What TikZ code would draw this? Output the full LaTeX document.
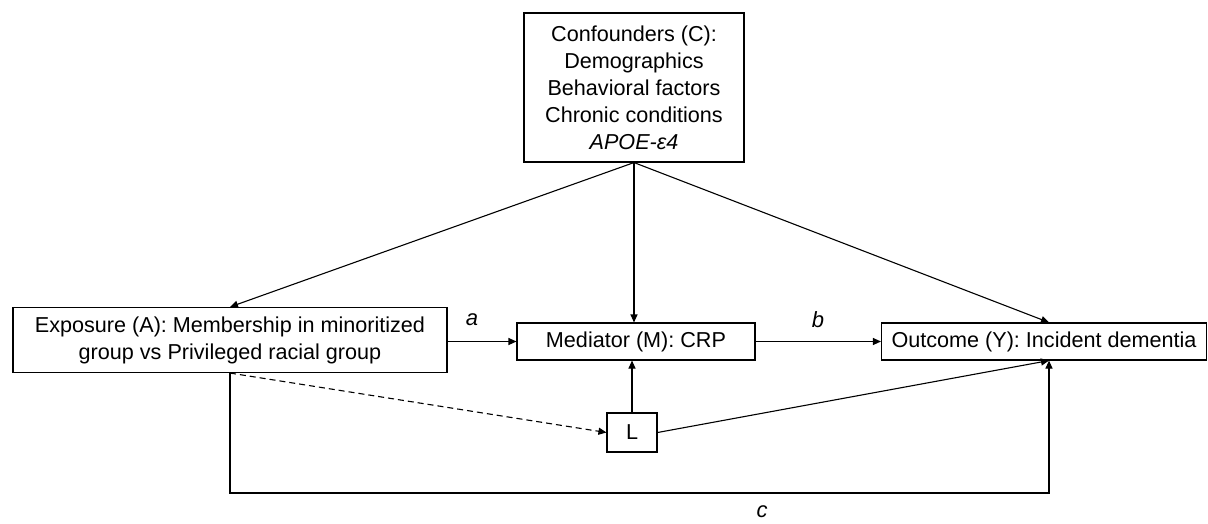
\documentclass[tikz,border=0pt]{standalone}
\usepackage{fontspec}
\setmainfont{Liberation Sans}
\usetikzlibrary{arrows.meta}
\begin{document}
\begin{tikzpicture}[x=1pt,y=-1pt,
  box/.style={draw, line width=1.1pt, inner sep=0pt, align=center, font=\fontsize{21.6}{27}\selectfont},
  arr/.style={line width=1.1pt, -{Triangle[length=8pt,width=7pt]}},
  lab/.style={font=\fontsize{22}{27}\selectfont\itshape}]
\useasboundingbox (0,0) rectangle (1208,523);
\node[box, minimum width=220pt, minimum height=149pt] (C) at (634,87.5)
  {Confounders (C):\\Demographics\\Behavioral factors\\Chronic conditions\\\textit{APOE-ε4}};
\node[box, minimum width=434pt, minimum height=65pt] (A) at (230,340)
  {Exposure (A): Membership in minoritized\\group vs Privileged racial group};
\node[box, minimum width=238pt, minimum height=37pt] (M) at (636,341.5) {Mediator (M): CRP};
\node[box, minimum width=325pt, minimum height=37pt] (Y) at (1044,341.5) {Outcome (Y): Incident dementia};
\node[box, minimum width=50pt, minimum height=39pt] (L) at (632,432.5) {L};
\coordinate (ybot) at (1049,493);
\draw[arr] (C.south) -- (A.north);
\draw[arr] (C.south) -- (M.north -| C.south);
\draw[arr] (C.south) -- (Y.north -| ybot);
\draw[arr] (M.west -| A.east) -- (M.west);
\draw[arr] (M.east) -- (Y.west);
\draw[arr] (L.north) -- (M.south -| L.north);
\draw[arr] (L.east) -- (Y.south -| ybot);
\draw[arr, dash pattern=on 6pt off 4pt] (A.south) -- (L.west);
\draw[arr] (A.south) |- (ybot) -- (Y.south -| ybot);
\node[lab] (la) at (472,320) {a};
\node[lab] (lb) at (818,320) {b};
\node[lab] (lc) at (762,512) {c};
\end{tikzpicture}
\end{document}
